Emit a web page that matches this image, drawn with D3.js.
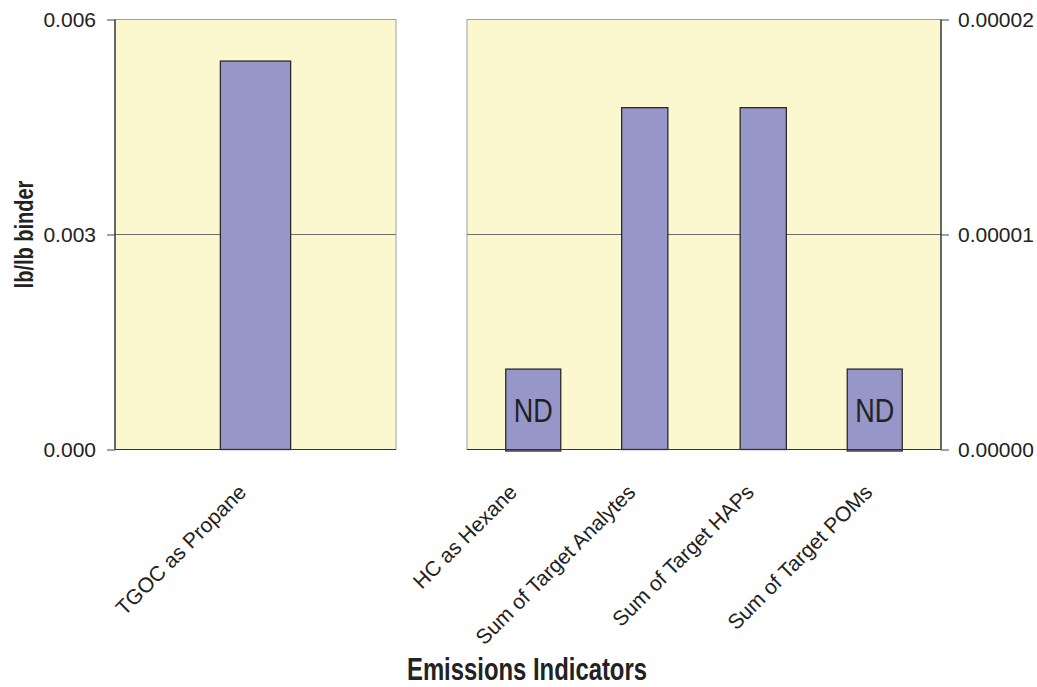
<!DOCTYPE html>
<html>
<head>
<meta charset="utf-8">
<script src="https://cdn.jsdelivr.net/npm/d3@7"></script>
<style>
  html, body { margin: 0; padding: 0; background: #fff; }
  text { font-family: "Liberation Sans", Arial, sans-serif; }
</style>
</head>
<body>
<svg id="chart" width="1037" height="687"></svg>
<script>
// ---- data ----
const leftCategories = ["TGOC as Propane"];
const leftValues = [0.00542];
const rightCategories = ["HC as Hexane", "Sum of Target Analytes", "Sum of Target HAPs", "Sum of Target POMs"];
const rightValues = [0.00000374, 0.0000159, 0.0000159, 0.00000374];
const rightNotDetected = [true, false, false, true];
const leftTicks = [0, 0.003, 0.006];
const leftTickLabels = ["0.000", "0.003", "0.006"];
const rightTicks = [0, 0.00001, 0.00002];
const rightTickLabels = ["0.00000", "0.00001", "0.00002"];
const yAxisTitle = "lb/lb binder";
const xAxisTitle = "Emissions Indicators";

// ---- layout ----
const svg = d3.select("#chart");
const plotTop = 19.5, plotBottom = 449.5;
const leftPanel = [115, 396];
const rightPanel = [467, 941];
const bg = "#fbf8d0", barFill = "#9696c8", barStroke = "#2b2b2b";

const yLeft = d3.scaleLinear().domain([0, 0.006]).range([plotBottom, plotTop]);
const yRight = d3.scaleLinear().domain([0, 0.00002]).range([plotBottom, plotTop]);
const xLeft = d3.scaleBand().domain(leftCategories).range(leftPanel).paddingInner(0.75).paddingOuter(0.375);
const xRight = d3.scaleBand().domain(rightCategories).range(rightPanel).paddingInner(0.61).paddingOuter(0.305);

function panel(x0, x1) {
  svg.append("rect").attr("x", x0).attr("y", plotTop).attr("width", x1 - x0).attr("height", plotBottom - plotTop)
    .attr("fill", bg).attr("stroke", "#a0a0a0").attr("stroke-width", 1);
}
panel(leftPanel[0], leftPanel[1]);
panel(rightPanel[0], rightPanel[1]);

// gridlines (middle)
function grid(y, ticks, x0, x1) {
  svg.append("g").selectAll("line").data(ticks.slice(1, -1)).join("line")
    .attr("x1", x0).attr("x2", x1).attr("y1", d => y(d)).attr("y2", d => y(d))
    .attr("stroke", "#6e6e6e").attr("stroke-width", 1);
}
grid(yLeft, leftTicks, leftPanel[0], leftPanel[1]);
grid(yRight, rightTicks, rightPanel[0], rightPanel[1]);

// bars left
svg.append("g").selectAll("rect").data(leftCategories).join("rect")
  .attr("x", d => xLeft(d))
  .attr("width", xLeft.bandwidth())
  .attr("y", (d, i) => yLeft(leftValues[i]))
  .attr("height", (d, i) => plotBottom - yLeft(leftValues[i]))
  .attr("fill", barFill).attr("stroke", barStroke).attr("stroke-width", 1.3);

// bars right (ND boxes are slightly wider and nudged inward, as in the source)
const ndWidth = 55;
const ndInset = 7;
const rightMid = (rightPanel[0] + rightPanel[1]) / 2;
const rightData = rightCategories.map((c, i) => ({ c, v: rightValues[i], nd: rightNotDetected[i] }));
const rg = svg.append("g");
const cx = d => {
  const c = xRight(d.c) + xRight.bandwidth() / 2;
  return d.nd ? c + (c < rightMid ? ndInset : -ndInset) : c;
};
const bw = d => d.nd ? ndWidth : xRight.bandwidth();
rg.selectAll("rect").data(rightData).join("rect")
  .attr("x", d => cx(d) - bw(d) / 2)
  .attr("width", bw)
  .attr("y", d => yRight(d.v))
  .attr("height", d => plotBottom - yRight(d.v) + (d.nd ? 1.5 : 0))
  .attr("fill", barFill).attr("stroke", barStroke).attr("stroke-width", 1.3);

rg.selectAll("text").data(rightData.filter(d => d.nd)).join("text")
  .attr("transform", d => `translate(${cx(d)},${plotBottom - 28}) scale(0.82,1)`)
  .attr("text-anchor", "middle")
  .attr("font-size", 33)
  .attr("fill", "#222")
  .text("ND");

// bottom axis lines
svg.append("line").attr("x1", leftPanel[0]).attr("x2", leftPanel[1]).attr("y1", plotBottom).attr("y2", plotBottom)
  .attr("stroke", "#333").attr("stroke-width", 1.2);
svg.append("line").attr("x1", rightPanel[0]).attr("x2", rightPanel[1]).attr("y1", plotBottom).attr("y2", plotBottom)
  .attr("stroke", "#333").attr("stroke-width", 1.2);

// left axis
const la = svg.append("g").attr("transform", `translate(${leftPanel[0]},0)`)
  .call(d3.axisLeft(yLeft).tickValues(leftTicks).tickFormat((d, i) => leftTickLabels[i]).tickSize(8).tickPadding(11));
la.select(".domain").attr("stroke", "#222").attr("stroke-width", 1.2).attr("d", `M0,${plotTop}V${plotBottom}`);
la.selectAll(".tick line").attr("stroke", "#444");
la.selectAll("text").attr("font-size", 21).attr("fill", "#222").attr("font-family", "Liberation Sans, Arial, sans-serif");

// right axis
const ra = svg.append("g").attr("transform", `translate(${rightPanel[1]},0)`)
  .call(d3.axisRight(yRight).tickValues(rightTicks).tickFormat((d, i) => rightTickLabels[i]).tickSize(8).tickPadding(9));
ra.select(".domain").attr("stroke", "#222").attr("stroke-width", 1.2).attr("d", `M0,${plotTop}V${plotBottom}`);
ra.selectAll(".tick line").attr("stroke", "#444");
ra.selectAll("text").attr("font-size", 21).attr("fill", "#222").attr("font-family", "Liberation Sans, Arial, sans-serif");

// category labels
function catLabels(x, cats) {
  svg.append("g").selectAll("text").data(cats).join("text")
    .attr("transform", d => `translate(${x(d) + x.bandwidth() / 2 - 8},${plotBottom + 44}) rotate(-45)`)
    .attr("text-anchor", "end")
    .attr("font-size", 21)
    .attr("fill", "#222")
    .text(d => d);
}
catLabels(xLeft, leftCategories);
catLabels(xRight, rightCategories);

// axis titles
svg.append("text")
  .attr("transform", `translate(33,${(plotTop + plotBottom) / 2}) rotate(-90) scale(0.77,1)`)
  .attr("text-anchor", "middle")
  .attr("font-size", 26)
  .attr("font-weight", "bold")
  .attr("fill", "#222")
  .text(yAxisTitle);

svg.append("text")
  .attr("transform", `translate(527,680) scale(0.77,1)`)
  .attr("text-anchor", "middle")
  .attr("font-size", 31)
  .attr("font-weight", "bold")
  .attr("fill", "#222")
  .text(xAxisTitle);
</script>
</body>
</html>
